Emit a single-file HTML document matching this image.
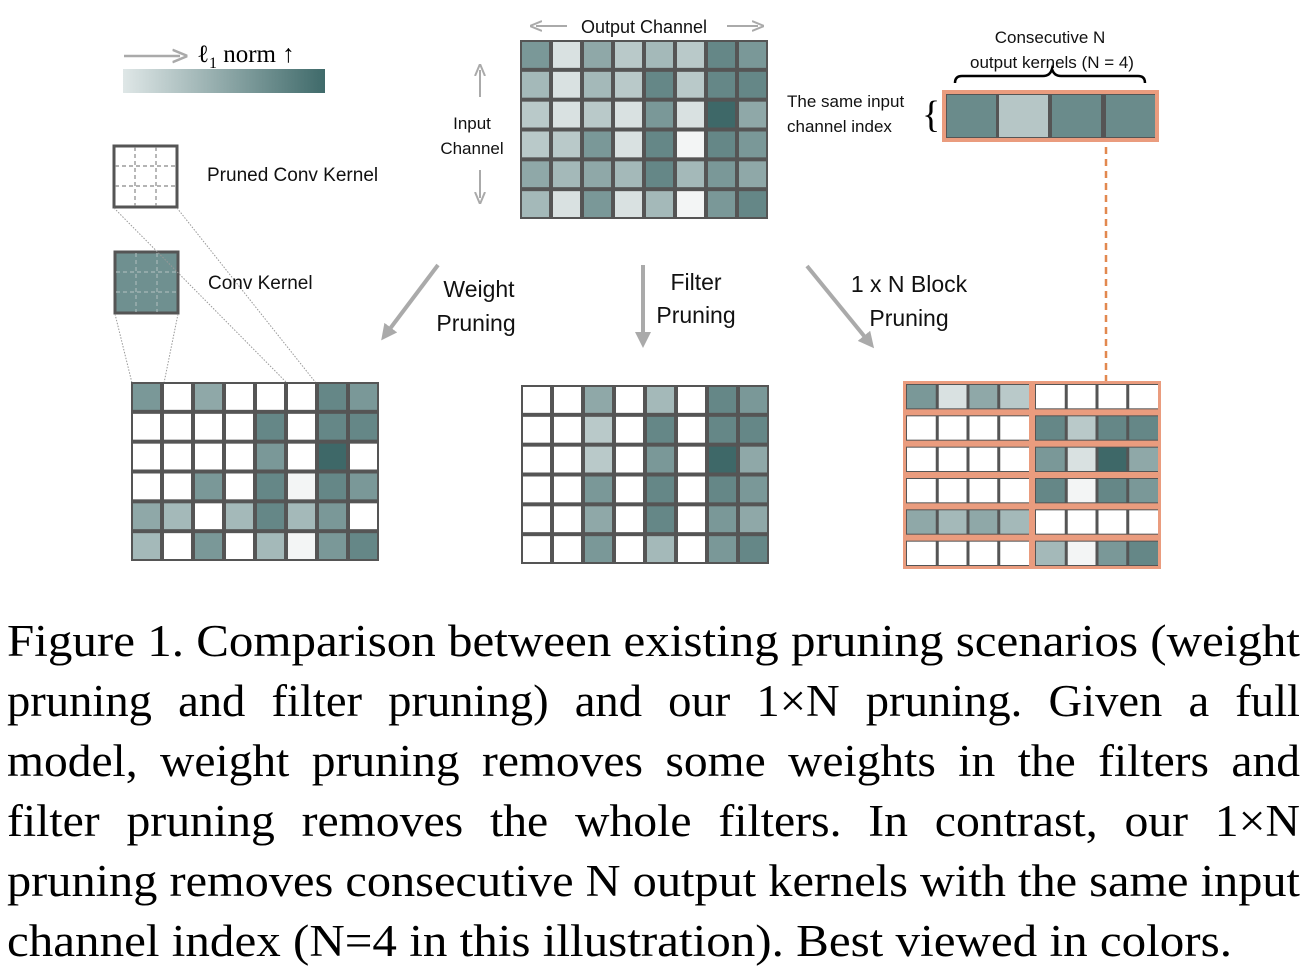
<!DOCTYPE html>
<html><head><meta charset="utf-8"><style>
html,body{margin:0;padding:0;background:#fff;width:1312px;height:972px;overflow:hidden}
svg{display:block}
.s{font-family:"Liberation Sans",sans-serif;fill:#111}
.c{font-family:"Liberation Serif",serif;font-size:45px;fill:#000}
</style></head><body>
<svg id="svg" width="1312" height="972" viewBox="0 0 1312 972" xmlns="http://www.w3.org/2000/svg">
<defs>
<linearGradient id="g" x1="0" x2="1" y1="0" y2="0"><stop offset="0" stop-color="#dfe7e7"/><stop offset="1" stop-color="#3f6a6a"/></linearGradient>
<marker id="ah" markerWidth="4" markerHeight="4" refX="2" refY="2" orient="auto" markerUnits="strokeWidth"><path d="M0,0 L4,2 L0,4 z" fill="#aaa"/></marker>
<marker id="ah2" markerWidth="6" markerHeight="6" refX="3" refY="3" orient="auto" markerUnits="strokeWidth"><path d="M0,0.5 L6,3 L0,5.5" fill="none" stroke="#aaa" stroke-width="1"/></marker>
</defs>
<!-- legend -->
<line x1="124" y1="56" x2="180" y2="56" stroke="#aaa" stroke-width="2.5" marker-end="url(#ah2)"/>
<text x="197" y="62" style="font-family:'Liberation Serif',serif;font-size:25px">ℓ<tspan font-size="16" dy="6">1</tspan><tspan dy="-6"> norm ↑</tspan></text>
<rect x="123" y="69" width="202" height="24" fill="url(#g)"/>
<!-- kernels -->
<rect x="114" y="146" width="63" height="61" fill="#fff" stroke="#555" stroke-width="3"/>
<g stroke="#888" stroke-width="1.2" stroke-dasharray="4,3">
<line x1="135" y1="147" x2="135" y2="206"/><line x1="156" y1="147" x2="156" y2="206"/>
<line x1="115" y1="166" x2="176" y2="166"/><line x1="115" y1="186" x2="176" y2="186"/></g>
<rect x="115" y="252" width="63" height="61" fill="#6f9090" stroke="#555" stroke-width="3"/>
<g stroke="#a8b8b8" stroke-width="1.2" stroke-dasharray="4,3">
<line x1="136" y1="253" x2="136" y2="312"/><line x1="157" y1="253" x2="157" y2="312"/>
<line x1="116" y1="272" x2="177" y2="272"/><line x1="116" y1="292" x2="177" y2="292"/></g>
<g stroke="#999" stroke-width="1" stroke-dasharray="1.5,1.5">
<line x1="114" y1="208" x2="287" y2="383"/><line x1="177" y1="208" x2="316" y2="383"/>
<line x1="115" y1="314" x2="132" y2="383"/><line x1="178" y1="314" x2="164" y2="383"/></g>
<text class="s" x="207" y="181" font-size="19">Pruned Conv Kernel</text>
<text class="s" x="208" y="289" font-size="19">Conv Kernel</text>
<!-- output/input channel -->
<line x1="567" y1="26" x2="536" y2="26" stroke="#aaa" stroke-width="2" marker-end="url(#ah2)"/>
<line x1="727" y1="26" x2="758" y2="26" stroke="#aaa" stroke-width="2" marker-end="url(#ah2)"/>
<text class="s" x="644" y="33" font-size="18" text-anchor="middle">Output Channel</text>
<line x1="480" y1="97" x2="480" y2="70" stroke="#aaa" stroke-width="2" marker-end="url(#ah2)"/>
<line x1="480" y1="170" x2="480" y2="198" stroke="#aaa" stroke-width="2" marker-end="url(#ah2)"/>
<text class="s" x="472" y="129" font-size="17" text-anchor="middle">Input</text>
<text class="s" x="472" y="154" font-size="17" text-anchor="middle">Channel</text>
<!-- big arrows -->
<line x1="438" y1="265" x2="386" y2="334" stroke="#aaa" stroke-width="4" marker-end="url(#ah)"/>
<line x1="643" y1="265" x2="643" y2="340" stroke="#aaa" stroke-width="4" marker-end="url(#ah)"/>
<line x1="807" y1="266" x2="869" y2="342" stroke="#aaa" stroke-width="4" marker-end="url(#ah)"/>
<text class="s" x="479" y="297" font-size="23" text-anchor="middle">Weight</text>
<text class="s" x="476" y="331" font-size="23" text-anchor="middle">Pruning</text>
<text class="s" x="696" y="290" font-size="23" text-anchor="middle">Filter</text>
<text class="s" x="696" y="323" font-size="23" text-anchor="middle">Pruning</text>
<text class="s" x="909" y="292" font-size="23" text-anchor="middle">1 x N Block</text>
<text class="s" x="909" y="326" font-size="23" text-anchor="middle">Pruning</text>
<!-- top right -->
<text class="s" x="1050" y="43" font-size="17" text-anchor="middle">Consecutive N</text>
<text class="s" x="1052" y="68" font-size="17" text-anchor="middle">output kernels (N = 4)</text>
<path d="M955,83 Q955,76 962,76 L1043,76 Q1050,76 1052,69 Q1054,76 1061,76 L1138,76 Q1145,76 1145,83" fill="none" stroke="#000" stroke-width="2.5"/>
<text class="s" x="787" y="107" font-size="17">The same input</text>
<text class="s" x="787" y="132" font-size="17">channel index</text>
<text x="922" y="127" style="font-family:'Liberation Serif',serif;font-size:38px">{</text>
<rect x="942" y="90" width="217" height="52" fill="#ea9c7e"/>
<rect x="946" y="94" width="209" height="44" fill="#555"/>
<rect x="947" y="95" width="49" height="42" fill="#6a8b8b"/>
<rect x="999" y="95" width="49" height="42" fill="#b6c6c6"/>
<rect x="1052" y="95" width="49" height="42" fill="#6a8b8b"/>
<rect x="1106" y="95" width="49" height="42" fill="#6a8b8b"/>
<line x1="1106" y1="147" x2="1106" y2="410" stroke="#e2884f" stroke-width="2.5" stroke-dasharray="7,5"/>
<g id="grids"></g>
<!-- caption -->
<text class="c" x="7" y="656" textLength="1293" lengthAdjust="spacingAndGlyphs">Figure 1.  Comparison between existing pruning scenarios (weight</text>
<text class="c" x="7" y="716" textLength="1293" lengthAdjust="spacingAndGlyphs" word-spacing="14">pruning and filter pruning) and our 1×N pruning.  Given a full</text>
<text class="c" x="7" y="776" textLength="1293" lengthAdjust="spacingAndGlyphs" word-spacing="10">model, weight pruning removes some weights in the filters and</text>
<text class="c" x="7" y="836" textLength="1293" lengthAdjust="spacingAndGlyphs" word-spacing="14">filter pruning removes the whole filters.  In contrast, our 1×N</text>
<text class="c" x="7" y="896" textLength="1293" lengthAdjust="spacingAndGlyphs">pruning removes consecutive N output kernels with the same input</text>
<text class="c" x="7" y="956" textLength="1225" lengthAdjust="spacingAndGlyphs">channel index (N=4 in this illustration). Best viewed in colors.</text>
</svg>
<script>
var P=["#ffffff","#f3f5f5","#d9e1e1","#b9c9c9","#a4b9b9","#8fa8a8","#7a9898","#658787","#3e6868"];
var T=[[6,2,5,3,4,3,7,6],[4,2,4,3,7,3,7,7],[3,2,3,2,6,2,8,5],[3,3,6,2,7,1,7,6],[5,4,5,4,7,4,6,5],[4,2,6,2,4,1,6,7]];
var W=[[6,0,5,0,0,0,7,6],[0,0,0,0,7,0,7,7],[0,0,0,0,6,0,8,0],[0,0,6,0,7,1,7,6],[5,4,0,4,7,4,6,0],[4,0,6,0,4,1,6,7]];
var F=[[0,0,5,0,4,0,7,6],[0,0,3,0,7,0,7,7],[0,0,3,0,6,0,8,5],[0,0,6,0,7,0,7,6],[0,0,5,0,7,0,6,5],[0,0,6,0,4,0,6,7]];
var N=[[6,2,5,3,0,0,0,0],[0,0,0,0,7,3,7,7],[0,0,0,0,6,2,8,5],[0,0,0,0,7,1,7,6],[5,4,5,4,0,0,0,0],[0,0,0,0,4,1,6,7]];
var ns="http://www.w3.org/2000/svg",G=document.getElementById("grids");
function r(x,y,w,h,f,s,sw){var e=document.createElementNS(ns,"rect");e.setAttribute("x",x);e.setAttribute("y",y);e.setAttribute("width",w);e.setAttribute("height",h);e.setAttribute("fill",f);if(s){e.setAttribute("stroke",s);e.setAttribute("stroke-width",sw);}G.appendChild(e);}
function grid(d,x0,y0,x1,y1){var cw=(x1-x0)/8,ch=(y1-y0)/6;r(x0,y0,x1-x0,y1-y0,"#555");
for(var i=0;i<6;i++)for(var j=0;j<8;j++)r(x0+j*cw+2,y0+i*ch+2,cw-4,ch-4,P[d[i][j]]);}
grid(T,520,40,768,219);
grid(W,131,382,379,561);
grid(F,521,385,769,564);
// 1xN
(function(){var x0=903,y0=381,x1=1161,y1=569,cw=(x1-x0)/8,ch=(y1-y0)/6;r(x0,y0,x1-x0,y1-y0,"#ea9c7e");
for(var i=0;i<6;i++){for(var b=0;b<2;b++){var bx=x0+b*4*cw+3,by=y0+i*ch+3;r(bx,by,4*cw-6,ch-6,"#555");
for(var j=0;j<4;j++){r(bx+j*(4*cw-6)/4+(j?2:1),by+1,(4*cw-6)/4-(j?3:2)+(j==3?1:0),ch-8,P[N[i][b*4+j]]);}}}})();
</script>
</body></html>
